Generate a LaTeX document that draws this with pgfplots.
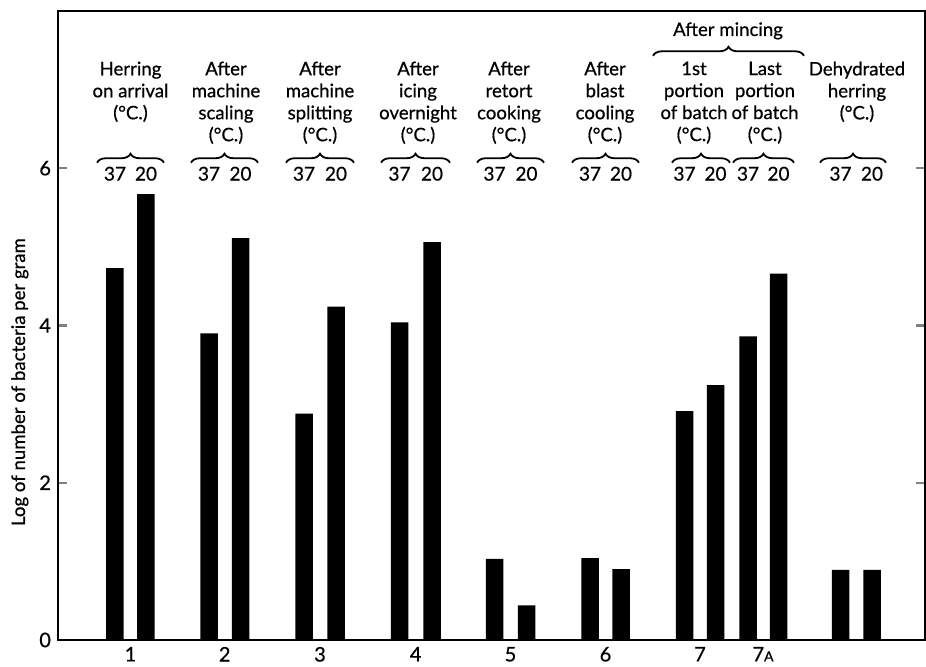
\documentclass[border=0pt]{standalone}
\usepackage{fontspec}
\setmainfont{Lato}[FakeBold=0.6]
\usepackage{pgfplots}
\pgfplotsset{compat=1.18}
\usetikzlibrary{decorations.pathreplacing,calc}

% bar centre (pixel-like x units) and log count
\pgfplotstableread{
x    y
115   4.73
209   3.90
304   2.88
399.5 4.04
494.5 1.03
590   1.04
684.5 2.91
748   3.86
840.5 0.89
}\tabA
\pgfplotstableread{
x    y
146   5.67
240.5 5.11
336   4.24
432   5.06
526.5 0.44
621   0.90
715.5 3.24
778.5 4.66
872   0.89
}\tabB

\begin{document}
\begin{tikzpicture}[
  anno/.style={anchor=north,align=center,inner sep=0pt,font=\fontsize{9.3}{11}\selectfont},
  num/.style={anchor=center,inner sep=0pt,font=\fontsize{9.5}{11}\selectfont},
  br/.style={decorate,decoration={brace,amplitude=4.5pt},line width=0.9pt},
]
\begin{axis}[
  width=433.5pt, height=314.5pt, scale only axis,
  xmin=58, xmax=925, ymin=0, ymax=8,
  axis line style={line width=1.2pt},
  ytick={0,2,4,6}, ytick pos=both,
  ytick style={line width=1.2pt},
  major tick length=4.5pt,
  xtick={130.5,224.7,320,415.7,510.5,605.5,700,763},
  xticklabels={1,2,3,4,5,6,7,7{\fontsize{7}{8}\selectfont A}},
  xtick style={draw=none},
  tick label style={font=\fontsize{10}{12}\selectfont},
  /pgf/number format/assume math mode=true,
  ylabel={Log of number of bacteria per gram},
  ylabel style={font=\fontsize{9.3}{11}\selectfont, at={(axis description cs:-0.044,0.41)}, anchor=center},
  clip=false,
]
\addplot[ybar, bar width=17.5, bar shift=0pt, fill=black, draw=none] table[x=x,y=y] {\tabA};
\addplot[ybar, bar width=17.5, bar shift=0pt, fill=black, draw=none] table[x=x,y=y] {\tabB};

% group titles
\node[anno] at (axis cs:130.5,7.36) {Herring\\on arrival\\(°C.)};
\node[anno] at (axis cs:226,7.36) {After\\machine\\scaling\\(°C.)};
\node[anno] at (axis cs:320,7.36) {After\\machine\\splitting\\(°C.)};
\node[anno] at (axis cs:418,7.36) {After\\icing\\overnight\\(°C.)};
\node[anno] at (axis cs:509,7.36) {After\\retort\\cooking\\(°C.)};
\node[anno] at (axis cs:605,7.36) {After\\blast\\cooling\\(°C.)};
\node[anno] at (axis cs:694,7.36) {1st\\portion\\of batch\\(°C.)};
\node[anno] at (axis cs:765,7.36) {Last\\portion\\of batch\\(°C.)};
\node[anno] at (axis cs:857,7.36) {Dehydrated\\herring\\(°C.)};
\node[anno] at (axis cs:728,7.86) {After mincing};
\draw[br] (axis cs:653,7.43) -- (axis cs:804,7.43);

% pair braces
\draw[br] (axis cs:97,6.07) -- (axis cs:164,6.07);
\draw[br] (axis cs:191,6.07) -- (axis cs:258,6.07);
\draw[br] (axis cs:286,6.07) -- (axis cs:354,6.07);
\draw[br] (axis cs:381,6.07) -- (axis cs:450,6.07);
\draw[br] (axis cs:477,6.07) -- (axis cs:544,6.07);
\draw[br] (axis cs:572,6.07) -- (axis cs:639,6.07);
\draw[br] (axis cs:672,6.07) -- (axis cs:730,6.07);
\draw[br] (axis cs:733,6.07) -- (axis cs:794,6.07);
\draw[br] (axis cs:820,6.07) -- (axis cs:886,6.07);

% temperature labels
\node[num] at (axis cs:115,5.93) {37};   \node[num] at (axis cs:146,5.93) {20};
\node[num] at (axis cs:209,5.93) {37};   \node[num] at (axis cs:240.5,5.93) {20};
\node[num] at (axis cs:304,5.93) {37};   \node[num] at (axis cs:336,5.93) {20};
\node[num] at (axis cs:399.5,5.93) {37}; \node[num] at (axis cs:432,5.93) {20};
\node[num] at (axis cs:494.5,5.93) {37}; \node[num] at (axis cs:526.5,5.93) {20};
\node[num] at (axis cs:590,5.93) {37};   \node[num] at (axis cs:621,5.93) {20};
\node[num] at (axis cs:684.5,5.93) {37}; \node[num] at (axis cs:715.5,5.93) {20};
\node[num] at (axis cs:748,5.93) {37};   \node[num] at (axis cs:778.5,5.93) {20};
\node[num] at (axis cs:840.5,5.93) {37}; \node[num] at (axis cs:872,5.93) {20};
\end{axis}
\pgfresetboundingbox
\path ($(current axis.south west)+(-29pt,-13.5pt)$) rectangle ($(current axis.north east)+(0.5pt,5.5pt)$);
\end{tikzpicture}
\end{document}
